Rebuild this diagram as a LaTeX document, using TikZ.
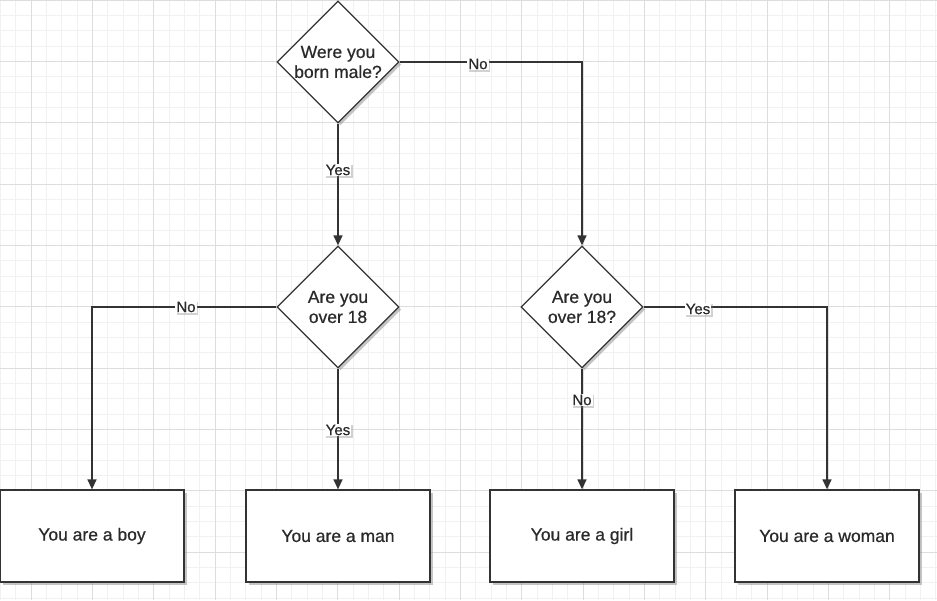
\documentclass[tikz,border=0pt]{standalone}
\usepackage{fontspec}
\setmainfont{Liberation Sans}[FakeBold=0.6]
\usetikzlibrary{shapes.geometric,arrows.meta,shadows}
\definecolor{txt}{HTML}{2A2A2A}
\definecolor{ln}{HTML}{333333}
\definecolor{gmin}{HTML}{F1F1F1}
\definecolor{gmaj}{HTML}{DDDDDD}
\tikzset{
  dec/.style={diamond, aspect=1, draw=ln, line width=1.3pt, fill=white,
    minimum width=122pt, minimum height=122pt, inner sep=0pt, align=center,
    text=txt, font=\fontsize{17.5}{20}\selectfont,
    drop shadow={shadow xshift=2.5pt, shadow yshift=-2.5pt, opacity=0.45, fill=gray}},
  res/.style={rectangle, draw=ln, line width=1.3pt, fill=white,
    minimum width=184pt, minimum height=92pt, inner sep=0pt,
    text=txt, font=\fontsize{17.5}{20}\selectfont,
    drop shadow={shadow xshift=2.5pt, shadow yshift=-2.5pt, opacity=0.45, fill=gray}},
  conn/.style={draw=ln, line width=1.4pt, -{Triangle[length=10pt,width=9pt]}},
  lab/.style={fill=white, inner sep=1pt, text=txt, font=\fontsize{15}{16}\selectfont,
    drop shadow={shadow xshift=1.5pt, shadow yshift=-1.5pt, opacity=0.35, fill=gray}}
}
\begin{document}
\begin{tikzpicture}[x=1pt,y=-1pt]
\useasboundingbox (0,0) rectangle (937,600);
\fill[white] (0,0) rectangle (937,600);
% grid
\foreach \i in {-2,...,60} {
  \draw[gmin, line width=0.6pt] ({31+\i*15.33},0) -- ({31+\i*15.33},600);
}
\foreach \j in {0,...,40} {
  \draw[gmin, line width=0.6pt] (0,{\j*15.33}) -- (937,{\j*15.33});
}
\foreach \i in {-1,...,15} {
  \draw[gmaj, line width=0.8pt] ({31+\i*61.33},0) -- ({31+\i*61.33},600);
}
\foreach \j in {0,...,10} {
  \draw[gmaj, line width=0.8pt] (0,{\j*61.33}) -- (937,{\j*61.33});
}
% nodes
\node[dec] (d1) at (338,62) {Were you\\born male?};
\node[dec] (d2) at (338,307) {Are you\\over 18};
\node[dec] (d3) at (582,307) {Are you\\over 18?};
\node[res] (boy) at (92,536) {You are a boy};
\node[res] (man) at (338,536) {You are a man};
\node[res] (girl) at (582,536) {You are a girl};
\node[res] (woman) at (827,536) {You are a woman};
\coordinate (c1) at (582,62);
\coordinate (c2) at (92,307);
\coordinate (c3) at (827,307);
% connectors
\draw[conn] (d1.east) -- (c1) -- (d3.north);
\draw[conn] (d1.south) -- (d2.north);
\draw[conn] (d2.west) -- (c2) -- (boy.north);
\draw[conn] (d2.south) -- (man.north);
\draw[conn] (d3.south) -- (girl.north);
\draw[conn] (d3.east) -- (c3) -- (woman.north);
% labels
\node[lab] (l1) at (478,64) {No};
\node[lab] (l2) at (338,170) {Yes};
\node[lab] (l3) at (186,307) {No};
\node[lab] (l4) at (338,430) {Yes};
\node[lab] (l5) at (582,400) {No};
\node[lab] (l6) at (698,309) {Yes};
\end{tikzpicture}
\end{document}
